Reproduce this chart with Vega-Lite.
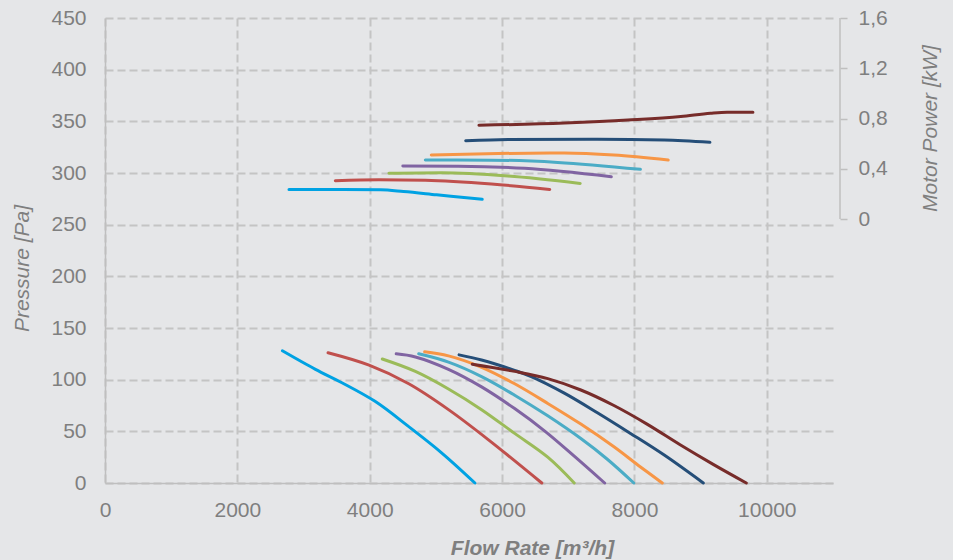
{
  "$schema": "https://vega.github.io/schema/vega-lite/v6.json",
  "width": 728,
  "height": 465,
  "autosize": {"type": "none"},
  "padding": {"left": 105, "top": 18, "right": 120, "bottom": 77},
  "background": "#E5E6E8",
  "config": {
    "view": {"stroke": null},
    "font": "Liberation Sans",
    "axis": {
      "labelFont": "Liberation Sans",
      "labelFontSize": 21,
      "labelColor": "#7F7F7F",
      "titleFont": "Liberation Sans",
      "titleFontSize": 21,
      "titleColor": "#7F7F7F",
      "titleFontStyle": "italic",
      "titleFontWeight": "normal",
      "domainColor": "#BFBFBF",
      "domainWidth": 1.5,
      "gridColor": "#C4C4C4",
      "gridDash": [8, 4],
      "gridWidth": 2,
      "tickColor": "#BFBFBF",
      "tickWidth": 1.5
    }
  },
  "datasets": {
    "pressure": [
      {"series": "c1", "flow": 2680, "pa": 128},
      {"series": "c1", "flow": 3180, "pa": 110},
      {"series": "c1", "flow": 3580, "pa": 97},
      {"series": "c1", "flow": 4080, "pa": 79},
      {"series": "c1", "flow": 4580, "pa": 55},
      {"series": "c1", "flow": 5090, "pa": 29},
      {"series": "c1", "flow": 5590, "pa": 0},
      {"series": "c2", "flow": 3370, "pa": 126},
      {"series": "c2", "flow": 3990, "pa": 114},
      {"series": "c2", "flow": 4590, "pa": 96},
      {"series": "c2", "flow": 5190, "pa": 71},
      {"series": "c2", "flow": 5790, "pa": 42},
      {"series": "c2", "flow": 6600, "pa": 0},
      {"series": "c3", "flow": 4190, "pa": 120},
      {"series": "c3", "flow": 4690, "pa": 108},
      {"series": "c3", "flow": 5190, "pa": 91},
      {"series": "c3", "flow": 5690, "pa": 71},
      {"series": "c3", "flow": 6190, "pa": 48},
      {"series": "c3", "flow": 6690, "pa": 25},
      {"series": "c3", "flow": 7090, "pa": 0},
      {"series": "c4", "flow": 4400, "pa": 125},
      {"series": "c4", "flow": 4690, "pa": 122},
      {"series": "c4", "flow": 5190, "pa": 110},
      {"series": "c4", "flow": 5690, "pa": 93},
      {"series": "c4", "flow": 6190, "pa": 72},
      {"series": "c4", "flow": 6650, "pa": 50},
      {"series": "c4", "flow": 7090, "pa": 26},
      {"series": "c4", "flow": 7550, "pa": 0},
      {"series": "c5", "flow": 4740, "pa": 125},
      {"series": "c5", "flow": 5190, "pa": 117},
      {"series": "c5", "flow": 5690, "pa": 103},
      {"series": "c5", "flow": 6190, "pa": 85},
      {"series": "c5", "flow": 6690, "pa": 65},
      {"series": "c5", "flow": 7190, "pa": 43},
      {"series": "c5", "flow": 7590, "pa": 23},
      {"series": "c5", "flow": 7990, "pa": 0},
      {"series": "c6", "flow": 4830, "pa": 127},
      {"series": "c6", "flow": 5190, "pa": 123},
      {"series": "c6", "flow": 5690, "pa": 112},
      {"series": "c6", "flow": 6190, "pa": 96},
      {"series": "c6", "flow": 6690, "pa": 77},
      {"series": "c6", "flow": 7190, "pa": 57},
      {"series": "c6", "flow": 7690, "pa": 35},
      {"series": "c6", "flow": 8060, "pa": 17},
      {"series": "c6", "flow": 8420, "pa": 0},
      {"series": "c7", "flow": 5350, "pa": 124},
      {"series": "c7", "flow": 5690, "pa": 119},
      {"series": "c7", "flow": 6190, "pa": 109},
      {"series": "c7", "flow": 6440, "pa": 103},
      {"series": "c7", "flow": 6940, "pa": 87},
      {"series": "c7", "flow": 7440, "pa": 68},
      {"series": "c7", "flow": 7940, "pa": 48},
      {"series": "c7", "flow": 8450, "pa": 27},
      {"series": "c7", "flow": 9040, "pa": 0},
      {"series": "c8", "flow": 5550, "pa": 115},
      {"series": "c8", "flow": 6190, "pa": 108},
      {"series": "c8", "flow": 6690, "pa": 101},
      {"series": "c8", "flow": 7190, "pa": 90},
      {"series": "c8", "flow": 7690, "pa": 75},
      {"series": "c8", "flow": 8190, "pa": 57},
      {"series": "c8", "flow": 8690, "pa": 37},
      {"series": "c8", "flow": 9190, "pa": 18},
      {"series": "c8", "flow": 9690, "pa": 0}
    ],
    "power": [
      {"series": "c1", "flow": 2780, "kw": 0.236},
      {"series": "c1", "flow": 3600, "kw": 0.236},
      {"series": "c1", "flow": 4165, "kw": 0.233},
      {"series": "c1", "flow": 4510, "kw": 0.219},
      {"series": "c1", "flow": 5010, "kw": 0.193},
      {"series": "c1", "flow": 5700, "kw": 0.157},
      {"series": "c2", "flow": 3480, "kw": 0.305},
      {"series": "c2", "flow": 4135, "kw": 0.313},
      {"series": "c2", "flow": 4840, "kw": 0.309},
      {"series": "c2", "flow": 5840, "kw": 0.279},
      {"series": "c2", "flow": 6720, "kw": 0.236},
      {"series": "c3", "flow": 4290, "kw": 0.364},
      {"series": "c3", "flow": 5090, "kw": 0.368},
      {"series": "c3", "flow": 6090, "kw": 0.342},
      {"series": "c3", "flow": 7180, "kw": 0.284},
      {"series": "c4", "flow": 4500, "kw": 0.422},
      {"series": "c4", "flow": 5340, "kw": 0.421},
      {"series": "c4", "flow": 6340, "kw": 0.404},
      {"series": "c4", "flow": 7650, "kw": 0.337},
      {"series": "c5", "flow": 4840, "kw": 0.47},
      {"series": "c5", "flow": 5840, "kw": 0.469},
      {"series": "c5", "flow": 6840, "kw": 0.451},
      {"series": "c5", "flow": 8090, "kw": 0.396},
      {"series": "c6", "flow": 4930, "kw": 0.51},
      {"series": "c6", "flow": 5940, "kw": 0.522},
      {"series": "c6", "flow": 6940, "kw": 0.526},
      {"series": "c6", "flow": 7690, "kw": 0.51},
      {"series": "c6", "flow": 8510, "kw": 0.47},
      {"series": "c7", "flow": 5450, "kw": 0.623},
      {"series": "c7", "flow": 6090, "kw": 0.634},
      {"series": "c7", "flow": 7440, "kw": 0.636},
      {"series": "c7", "flow": 8450, "kw": 0.629},
      {"series": "c7", "flow": 9140, "kw": 0.611},
      {"series": "c8", "flow": 5650, "kw": 0.746},
      {"series": "c8", "flow": 6940, "kw": 0.765},
      {"series": "c8", "flow": 7900, "kw": 0.788},
      {"series": "c8", "flow": 8700, "kw": 0.816},
      {"series": "c8", "flow": 9150, "kw": 0.843},
      {"series": "c8", "flow": 9400, "kw": 0.851},
      {"series": "c8", "flow": 9790, "kw": 0.851}
    ]
  },
  "layer": [
    {
      "data": {"name": "pressure"},
      "mark": {"type": "line", "strokeWidth": 3, "interpolate": "catmull-rom", "strokeCap": "round"},
      "encoding": {
        "x": {
          "field": "flow", "type": "quantitative", "title": "Flow Rate [m³/h]",
          "scale": {"domain": [0, 11000], "nice": false},
          "axis": {
            "values": [0, 2000, 4000, 6000, 8000, 10000],
            "format": "d",
            "ticks": false, "tickSize": 0, "labelPadding": 16,
            "grid": true, "titleFontWeight": "bold", "titleX": 427,
            "titlePadding": 17, "labelFlush": false
          }
        },
        "y": {
          "field": "pa", "type": "quantitative", "title": "Pressure [Pa]",
          "scale": {"domain": [0, 450], "nice": false},
          "axis": {
            "values": [0, 50, 100, 150, 200, 250, 300, 350, 400, 450],
            "ticks": false, "tickSize": 0, "labelPadding": 19,
            "grid": true, "titleY": 250, "titlePadding": 18
          }
        },
        "color": {
          "field": "series", "type": "nominal", "legend": null,
          "scale": {
            "domain": ["c1", "c2", "c3", "c4", "c5", "c6", "c7", "c8"],
            "range": ["#00A2E3", "#C0504D", "#9BBB59", "#8064A2", "#4BACC6", "#F79646", "#254E78", "#772C2A"]
          }
        }
      }
    },
    {
      "layer": [
        {
          "data": {"name": "power"},
          "mark": {"type": "line", "strokeWidth": 3, "interpolate": "monotone", "strokeCap": "round"},
          "encoding": {
            "x": {"field": "flow", "type": "quantitative", "title": "Flow Rate [m³/h]"},
            "y": {
              "field": "kw", "type": "quantitative", "title": "Motor Power [kW]",
              "scale": {"domain": [-2.1, 1.6], "nice": false, "zero": false},
              "axis": {
                "orient": "right",
                "values": [0, 0.4, 0.8, 1.2, 1.6],
                "labelExpr": "datum.value == 0 ? '0' : replace(format(datum.value, '.1f'), '.', ',')",
                "domain": false, "ticks": true, "tickSize": 7, "offset": 7,
                "labelPadding": 11, "grid": false,
                "titleAngle": 270, "titleBaseline": "top", "titleY": 110, "titlePadding": 32
              }
            },
            "color": {"field": "series", "type": "nominal", "legend": null}
          }
        },
        {
          "data": {"values": [{}]},
          "mark": {"type": "rule", "color": "#BFBFBF", "strokeWidth": 1.5, "xOffset": 7},
          "encoding": {
            "x": {"datum": 11000, "type": "quantitative"},
            "y": {"datum": 0, "type": "quantitative"},
            "y2": {"datum": 1.6}
          }
        }
      ]
    }
  ],
  "resolve": {"scale": {"y": "independent"}, "axis": {"y": "independent"}}
}
